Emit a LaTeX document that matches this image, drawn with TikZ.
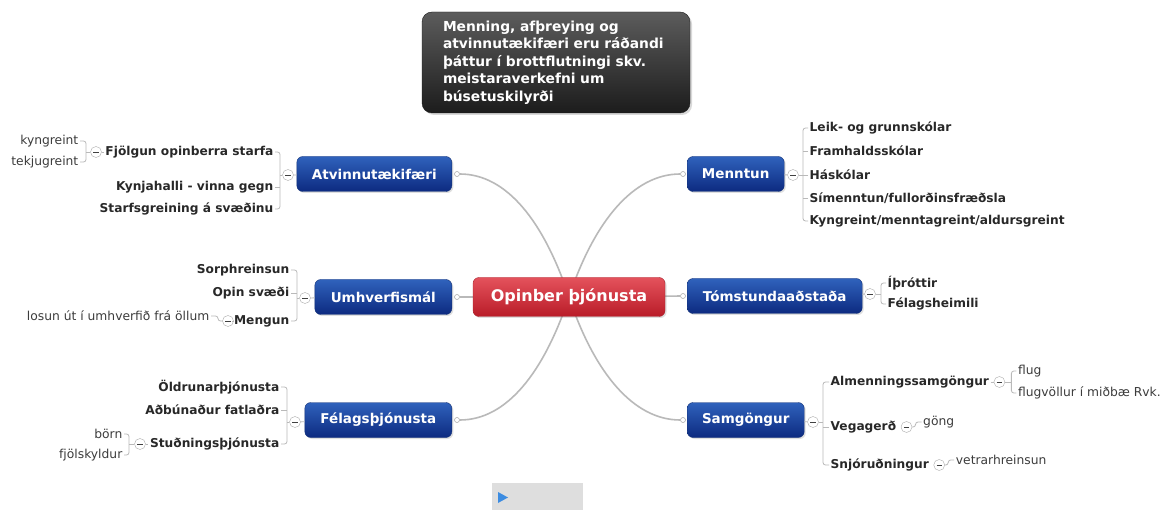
\documentclass[tikz,border=0pt]{standalone}
\usepackage{fontspec}
\setmainfont{DejaVu Sans}
\usetikzlibrary{shadows,backgrounds,positioning,calc}
\definecolor{conn}{RGB}{185,185,185}
\definecolor{btop}{RGB}{48,98,188}
\definecolor{bbot}{RGB}{12,42,128}
\definecolor{bdraw}{RGB}{20,50,120}
\definecolor{rtop}{RGB}{228,82,92}
\definecolor{rbot}{RGB}{185,28,40}
\definecolor{rdraw}{RGB}{170,40,50}
\definecolor{gtop}{RGB}{92,92,92}
\definecolor{gbot}{RGB}{28,28,28}
\definecolor{txt}{RGB}{40,40,40}
\definecolor{leaftxt}{RGB}{60,60,60}
\definecolor{bargray}{RGB}{222,222,222}
\definecolor{playblue}{RGB}{60,140,225}
\tikzset{
  branch/.style={rounded corners=6pt, top color=btop, bottom color=bbot, draw=bdraw,
    text=white, font=\fontsize{13.5}{15}\selectfont\bfseries, minimum height=35pt,
    inner xsep=4pt, drop shadow={opacity=0.25, shadow xshift=1.5pt, shadow yshift=-1.5pt}},
  hub/.style={rounded corners=6pt, top color=rtop, bottom color=rbot, draw=rdraw,
    text=white, font=\fontsize{16}{18}\selectfont\bfseries, minimum height=39pt,
    minimum width=192pt, drop shadow={opacity=0.25, shadow xshift=1.5pt, shadow yshift=-1.5pt}},
  notebox/.style={rounded corners=10pt, top color=gtop, bottom color=gbot, draw=gbot,
    text=white, font=\fontsize{13.8}{17.5}\selectfont\bfseries, minimum height=101pt,
    inner xsep=21pt, text width=226pt, align=left,
    drop shadow={opacity=0.3, shadow xshift=2pt, shadow yshift=-2pt}},
  child/.style={font=\fontsize{12.2}{14}\selectfont\bfseries, text=txt, inner sep=1.5pt},
  leaf/.style={font=\fontsize{12.3}{14}\selectfont, text=leaftxt, inner sep=1.5pt},
  brk/.style={draw=conn, line width=0.8pt, rounded corners=2.5pt},
  link/.style={draw=conn, line width=1.6pt},
  cbtn/.style={circle, draw=gray!65, fill=white, minimum size=11pt, inner sep=0pt,
    path picture={\draw[line width=0.9pt, black!75]
      ([xshift=-2.7pt]path picture bounding box.center) --
      ([xshift=2.7pt]path picture bounding box.center);}},
  dot/.style={circle, draw=gray!65, fill=white, minimum size=5pt, inner sep=0pt, line width=0.6pt}
}
\begin{document}
\begin{tikzpicture}[x=1pt,y=-1pt]
\useasboundingbox (0,0) rectangle (1161,510);

% note
\node[notebox] (note) at (556,62.5) {Menning, afþreying og\\atvinnutækifæri eru ráðandi\\þáttur í brottflutningi skv.\\meistaraverkefni um\\búsetuskilyrði};

% hub and branches
\node[hub] (c) at (569,297) {Opinber þjónusta};
\node[branch, anchor=east, minimum width=155pt] (atv) at (452,174) {Atvinnutækifæri};
\node[branch, anchor=east, minimum width=137pt] (umh) at (452,297) {Umhverfismál};
\node[branch, anchor=east, minimum width=147pt] (fel) at (452,420) {Félagsþjónusta};
\node[branch, anchor=west, minimum width=97pt] (men) at (687,174) {Menntun};
\node[branch, anchor=west, minimum width=175pt] (tom) at (687,296) {Tómstundaaðstaða};
\node[branch, anchor=west, minimum width=117pt] (sam) at (687,420) {Samgöngur};

\node[dot] (d1) at (457,174) {};
\node[dot] (d2) at (457,297) {};
\node[dot] (d3) at (457,420) {};
\node[dot] (d4) at (683,174) {};
\node[dot] (d5) at (683,296) {};
\node[dot] (d6) at (683,420) {};

\begin{pgfonlayer}{background}
\fill[white] (0,0) rectangle (1161,510);
\draw[link] (d1) .. controls +(50,0) and +(-25,-75) .. (c.center);
\draw[link] (d4) .. controls +(-50,0) and +(25,-75) .. (c.center);
\draw[link] (d3) .. controls +(50,0) and +(-25,75) .. (c.center);
\draw[link] (d6) .. controls +(-50,0) and +(25,75) .. (c.center);
\draw[link] (d2) -- (c.center);
\draw[link] (d5) -- (c.center);
\end{pgfonlayer}

% ---- Atvinnutaekifaeri
\node[cbtn] (m1) at (288,175) {};
\coordinate (b1) at (280,175);
\node[child, anchor=east] (a1) at (275,152) {Fjölgun opinberra starfa};
\node[child, anchor=east] (a2) at (275,187) {Kynjahalli - vinna gegn};
\node[child, anchor=east] (a3) at (275,209) {Starfsgreining á svæðinu};
\draw[brk] (a1.east) -| (b1) |- (a3.east);
\draw[brk] (a2.east) -- (a2.east -| b1);
\draw[brk] (b1) -- (m1);
\draw[brk] (m1) -- (atv);

\node[cbtn] (m1a) at (96,152) {};
\coordinate (b1a) at (86,152);
\node[leaf, anchor=east] (k1) at (80,141) {kyngreint};
\node[leaf, anchor=east] (k2) at (80,162) {tekjugreint};
\draw[brk] (k1.east) -| (b1a) |- (k2.east);
\draw[brk] (b1a) -- (m1a);
\draw[brk] (m1a) -- (a1);

% ---- Umhverfismal
\node[cbtn] (m2) at (305,298) {};
\coordinate (b2) at (297,298);
\node[child, anchor=east] (u1) at (291,270) {Sorphreinsun};
\node[child, anchor=east] (u2) at (291,293) {Opin svæði};
\node[child, anchor=east] (u3) at (291,321) {Mengun};
\draw[brk] (u1.east) -| (b2) |- (u3.east);
\draw[brk] (u2.east) -- (u2.east -| b2);
\draw[brk] (b2) -- (m2);
\draw[brk] (m2) -- (umh);

\node[cbtn] (m2a) at (228,321) {};
\coordinate (b2a) at (218,321);
\node[leaf, anchor=east] (l1) at (211,316) {losun út í umhverfið frá öllum};
\draw[brk] (l1.east) -| (b2a) -- (m2a);
\draw[brk] (m2a) -- (u3);

% ---- Felagsthjonusta
\node[cbtn] (m3) at (295,422) {};
\coordinate (b3) at (287,422);
\node[child, anchor=east] (f1) at (281,387) {Öldrunarþjónusta};
\node[child, anchor=east] (f2) at (281,410) {Aðbúnaður fatlaðra};
\node[child, anchor=east] (f3) at (281,444) {Stuðningsþjónusta};
\draw[brk] (f1.east) -| (b3) |- (f3.east);
\draw[brk] (f2.east) -- (f2.east -| b3);
\draw[brk] (b3) -- (m3);
\draw[brk] (m3) -- (fel);

\node[cbtn] (m3a) at (140,444) {};
\coordinate (b3a) at (129,444);
\node[leaf, anchor=east] (s1) at (124,434) {börn};
\node[leaf, anchor=east] (s2) at (124,455) {fjölskyldur};
\draw[brk] (s1.east) -| (b3a) |- (s2.east);
\draw[brk] (b3a) -- (m3a);
\draw[brk] (m3a) -- (f3);

% ---- Menntun
\node[cbtn] (m4) at (793,175) {};
\coordinate (b4) at (803,175);
\node[child, anchor=west] (e1) at (808,128) {Leik- og grunnskólar};
\node[child, anchor=west] (e2) at (808,151) {Framhaldsskólar};
\node[child, anchor=west] (e3) at (808,175) {Háskólar};
\node[child, anchor=west] (e4) at (808,198) {Símenntun/fullorðinsfræðsla};
\node[child, anchor=west] (e5) at (808,221) {Kyngreint/menntagreint/aldursgreint};
\draw[brk] (e1.west) -| (b4) |- (e5.west);
\draw[brk] (e2.west) -- (e2.west -| b4);
\draw[brk] (e3.west) -- (e3.west -| b4);
\draw[brk] (e4.west) -- (e4.west -| b4);
\draw[brk] (men) -- (m4);
\draw[brk] (m4) -- (b4);

% ---- Tomstundaadstada
\node[cbtn] (m5) at (870,294) {};
\coordinate (b5) at (881,294);
\node[child, anchor=west] (t1) at (886,283) {Íþróttir};
\node[child, anchor=west] (t2) at (886,304) {Félagsheimili};
\draw[brk] (t1.west) -| (b5) |- (t2.west);
\draw[brk] (tom) -- (m5);
\draw[brk] (m5) -- (b5);

% ---- Samgongur
\node[cbtn] (m6) at (813,422) {};
\coordinate (b6) at (823,422);
\node[child, anchor=west] (g1) at (829,382) {Almenningssamgöngur};
\node[child, anchor=west] (g2) at (829,427) {Vegagerð};
\node[child, anchor=west] (g3) at (829,465) {Snjóruðningur};
\draw[brk] (g1.west) -| (b6) |- (g3.west);
\draw[brk] (g2.west) -- (g2.west -| b6);
\draw[brk] (sam) -- (m6);
\draw[brk] (m6) -- (b6);

\node[cbtn, right=3pt of g1] (m6a) {};
\coordinate (b6a) at ($(m6a)+(12,0)$);
\node[leaf, anchor=west] (h1) at ($(b6a)+(5,-11)$) {flug};
\node[leaf, anchor=west] (h2) at ($(b6a)+(5,11)$) {flugvöllur í miðbæ Rvk.};
\draw[brk] (h1.west) -| (b6a) |- (h2.west);
\draw[brk] (m6a) -- (b6a);
\draw[brk] (g1) -- (m6a);

\node[cbtn, right=3pt of g2] (m6b) {};
\coordinate (b6b) at ($(m6b)+(9,0)$);
\node[leaf, anchor=west] (h3) at ($(b6b)+(6,-5)$) {göng};
\draw[brk] (m6b) -- (b6b) |- (h3.west);

\node[cbtn, right=3pt of g3] (m6c) {};
\coordinate (b6c) at ($(m6c)+(9,0)$);
\node[leaf, anchor=west] (h4) at ($(b6c)+(6,-5)$) {vetrarhreinsun};
\draw[brk] (m6c) -- (b6c) |- (h4.west);

% ---- play bar
\node[fill=bargray, anchor=north west, minimum width=91pt, minimum height=27pt, inner sep=0pt] (bar) at (492,483) {};
\fill[playblue] (498,492) -- (508,497.5) -- (498,503) -- cycle;
\end{tikzpicture}
\end{document}
